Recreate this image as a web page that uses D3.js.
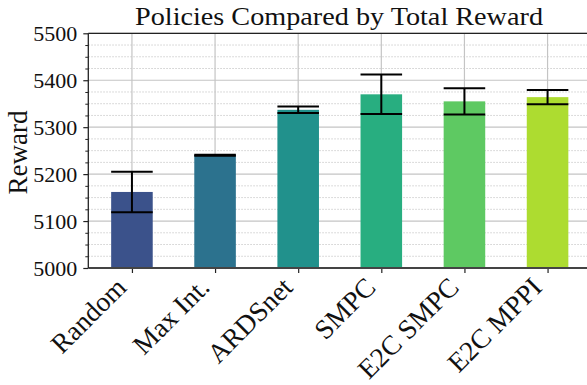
<!DOCTYPE html>
<html>
<head>
<meta charset="utf-8">
<script src="https://cdn.jsdelivr.net/npm/d3@7"></script>
<style>
  html, body { margin: 0; padding: 0; background: #fff; }
  svg { display: block; }
  text { font-family: "Liberation Serif", "DejaVu Serif", serif; fill: #111; }
</style>
</head>
<body>
<svg id="chart" width="587" height="385"></svg>
<script>
// Policies and their mean total reward with error half-widths
const policies = ["Random", "Max Int.", "ARDSnet", "SMPC", "E2C SMPC", "E2C MPPI"];
const meanReward = [5162, 5240, 5337, 5370, 5355, 5364];
const rewardErr = [43, 1, 7, 42, 28, 15];
const barColors = ["#3b528b", "#2c728e", "#21918c", "#28ae80", "#5ec962", "#addc30"];
const yTicks = [5000, 5100, 5200, 5300, 5400, 5500];

const svg = d3.select("#chart");
const plotL = 88.3, plotR = 591.2, plotT = 33.3, plotB = 268;

// Bar i centred at i, with the usual padding either side
const x = d3.scaleLinear().domain([-0.525, policies.length - 1 + 0.525]).range([plotL, plotR]);
const y = d3.scaleLinear().domain([5000, 5500]).range([plotB, plotT]);
const barW = x(0.5) - x(0);

const data = policies.map((p, i) => ({ p, i, v: meanReward[i], e: rewardErr[i], c: barColors[i] }));

// Minor grid (dotted) every 25
const minor = d3.range(5025, 5500, 25).filter(v => v % 100 !== 0);
svg.append("g").selectAll("line").data(minor).join("line")
  .attr("x1", plotL).attr("x2", plotR)
  .attr("y1", d => y(d)).attr("y2", d => y(d))
  .attr("stroke", "#cfcfcf").attr("stroke-width", 1).attr("stroke-dasharray", "1.5,1.5");

// Major grid
svg.append("g").selectAll("line").data(yTicks).join("line")
  .attr("x1", plotL).attr("x2", plotR)
  .attr("y1", d => y(d)).attr("y2", d => y(d))
  .attr("stroke", "#c4c4c4").attr("stroke-width", 1.2);
svg.append("g").selectAll("line").data(data).join("line")
  .attr("x1", d => x(d.i)).attr("x2", d => x(d.i))
  .attr("y1", plotT).attr("y2", plotB)
  .attr("stroke", "#c4c4c4").attr("stroke-width", 1.2);

// Bars
svg.append("g").selectAll("rect").data(data).join("rect")
  .attr("x", d => x(d.i) - barW / 2)
  .attr("width", barW)
  .attr("y", d => y(d.v))
  .attr("height", d => y(5000) - y(d.v))
  .attr("fill", d => d.c);

// Error bars with caps as wide as the bars
const eb = svg.append("g").attr("stroke", "#000").attr("stroke-width", 2);
data.forEach(d => {
  eb.append("line").attr("x1", x(d.i)).attr("x2", x(d.i)).attr("y1", y(d.v - d.e)).attr("y2", y(d.v + d.e));
  [d.v - d.e, d.v + d.e].forEach(v => {
    eb.append("line").attr("x1", x(d.i) - barW / 2).attr("x2", x(d.i) + barW / 2).attr("y1", y(v)).attr("y2", y(v));
  });
});

// Y axis
const yAxis = d3.axisLeft(y).tickValues(yTicks).tickFormat(d3.format("d")).tickSize(5).tickPadding(6);
const gy = svg.append("g").attr("transform", `translate(${plotL},0)`).call(yAxis);
gy.select(".domain").remove();
gy.selectAll("line").attr("stroke", "#222").attr("stroke-width", 1.2);
gy.selectAll("text").attr("font-size", 22).attr("font-family", "Liberation Serif").attr("fill", "#111").attr("dy", "0.34em");
// y minor ticks
const yMinor = d3.axisLeft(y).tickValues(minor).tickFormat("").tickSize(3);
const gym = svg.append("g").attr("transform", `translate(${plotL},0)`).call(yMinor);
gym.select(".domain").remove();
gym.selectAll("line").attr("stroke", "#222").attr("stroke-width", 1);

// X axis
const xAxis = d3.axisBottom(x).tickValues(d3.range(policies.length)).tickFormat("").tickSize(5);
const gx = svg.append("g").attr("transform", `translate(0,${plotB})`).call(xAxis);
gx.select(".domain").remove();
gx.selectAll("line").attr("stroke", "#222").attr("stroke-width", 1.2);

// Rotated category labels
svg.append("g").selectAll("text").data(data).join("text")
  .attr("transform", d => `translate(${x(d.i) - 4},289) rotate(-45)`)
  .attr("text-anchor", "end")
  .attr("font-size", 27.5)
  .text(d => d.p);

// Spines
svg.append("line").attr("x1", plotL).attr("x2", plotR).attr("y1", plotT).attr("y2", plotT).attr("stroke", "#222").attr("stroke-width", 1.3);
svg.append("line").attr("x1", plotL).attr("x2", plotR).attr("y1", plotB).attr("y2", plotB).attr("stroke", "#444").attr("stroke-width", 1.8);
svg.append("line").attr("x1", plotL).attr("x2", plotL).attr("y1", plotT).attr("y2", plotB).attr("stroke", "#222").attr("stroke-width", 1.3);

// Title and y label
svg.append("text").attr("x", 135).attr("y", 25)
  .attr("font-size", 26).attr("textLength", 408).attr("lengthAdjust", "spacingAndGlyphs")
  .text("Policies Compared by Total Reward");
svg.append("text").attr("transform", `translate(26.5,152.5) rotate(-90)`)
  .attr("text-anchor", "middle").attr("font-size", 27).text("Reward");
</script>
</body>
</html>
